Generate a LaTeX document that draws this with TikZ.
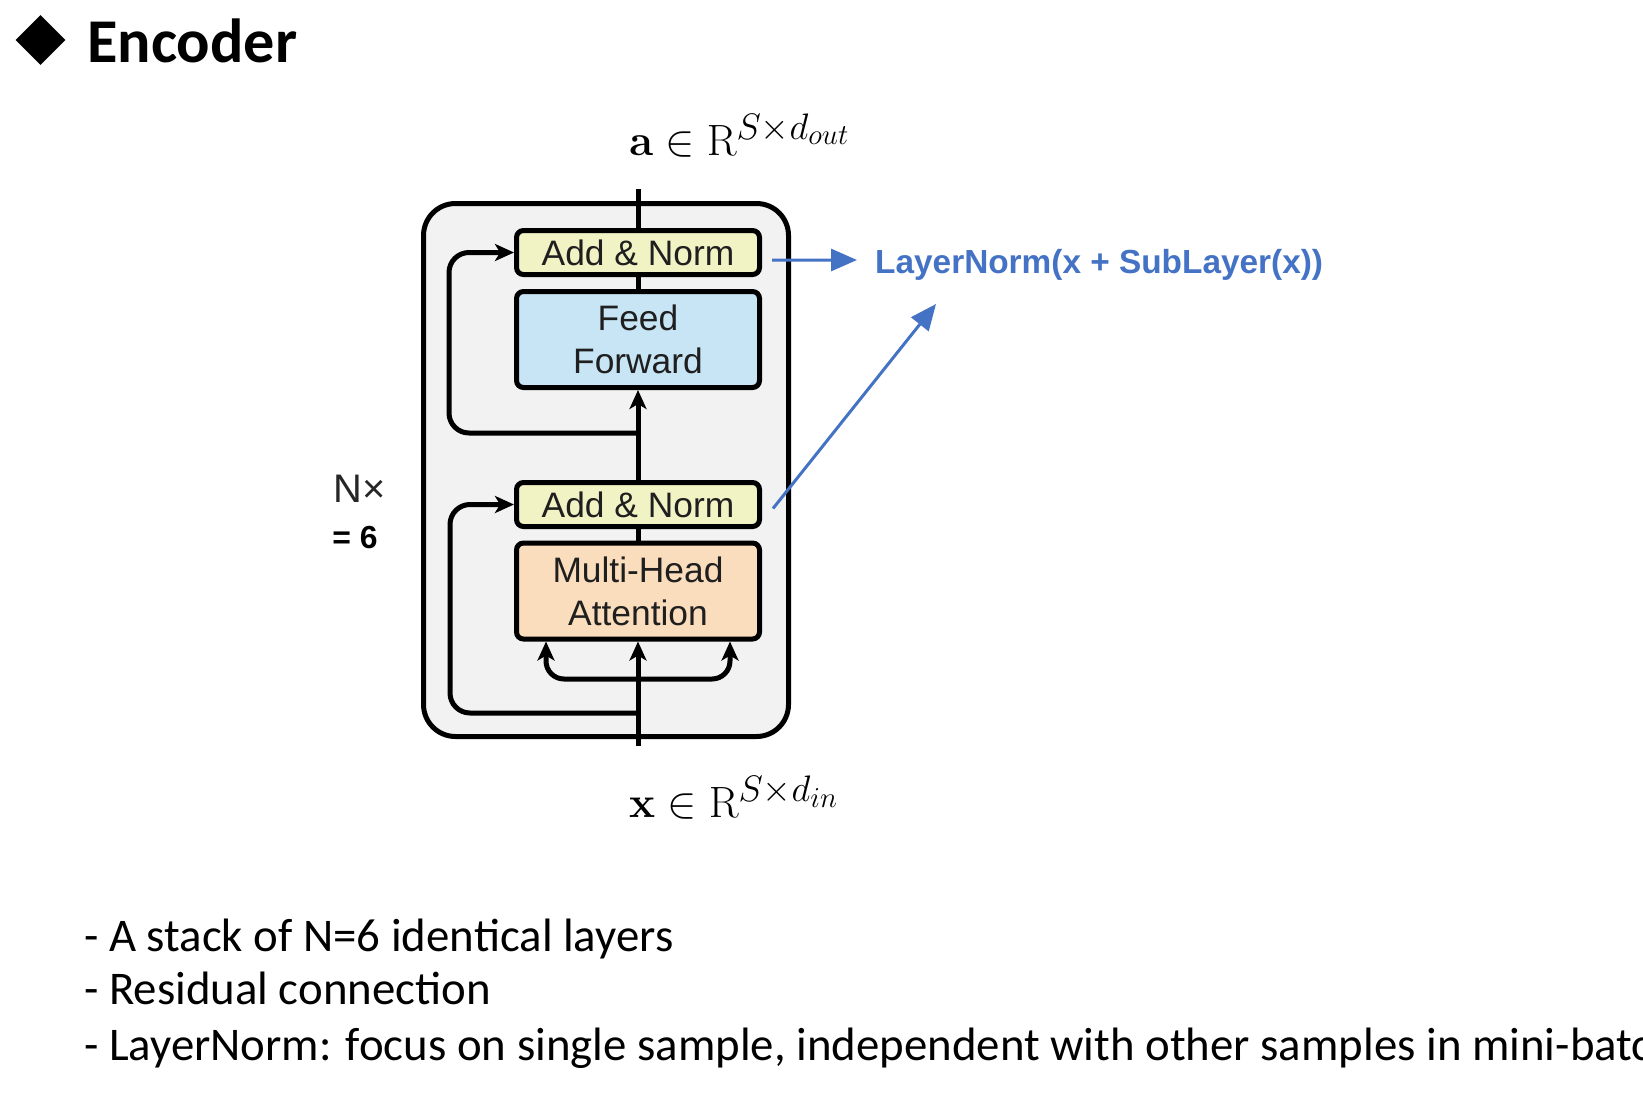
\documentclass[tikz,border=0pt]{standalone}
\usepackage{fix-cm}
\usepackage[no-math]{fontspec}
\setmainfont{Carlito}
\newfontfamily\blockfont{Liberation Sans}
\DeclareMathSizes{44}{44}{37}{29}
\usetikzlibrary{arrows.meta,shapes.geometric}
\definecolor{layergray}{HTML}{F2F2F2}
\definecolor{normyellow}{HTML}{F2F3C5}
\definecolor{ffblue}{HTML}{C7E5F4}
\definecolor{mhapeach}{HTML}{FADDBC}
\definecolor{noteblue}{HTML}{4472C4}
\begin{document}
\begin{tikzpicture}[x=1bp, y=-1bp,
    block/.style={draw, line width=5bp, rounded corners=7bp, inner sep=0pt,
      minimum width=243bp, align=center, text=black!88,
      font=\blockfont\fontsize{35.5}{43}\selectfont},
    flow/.style={line width=5bp},
    flowarrow/.style={line width=5bp, -{Stealth[length=19bp,width=17bp,inset=5bp]}},
    note/.style={line width=3bp, draw=noteblue, -{Triangle[length=26bp,width=22bp]}},
    mathlabel/.style={anchor=base west, inner sep=0pt, font=\fontsize{44}{50}\selectfont},
    bullet/.style={anchor=base west, inner sep=0pt, font=\fontsize{47}{56}\selectfont}]
    \useasboundingbox (0,0) rectangle (1643,1102);

    % Title
    \node[diamond, fill, inner sep=0pt, minimum size=50bp] (mark) at (40.5,40) {};
    \node[anchor=base west, inner sep=0pt, font=\bfseries\fontsize{62.5}{75}\selectfont]
      (title) at (87,62) {Encoder};

    % Layer frame
    \draw[line width=5bp, fill=layergray, rounded corners=32bp] (423.5,203.5) rectangle (788.5,736.5);

    % Blocks
    \node[block, fill=normyellow, minimum height=44bp] (an2) at (638,252.5) {Add \& Norm};
    \node[block, fill=ffblue, minimum height=96bp] (ff) at (638,339.5) {Feed\\Forward};
    \node[block, fill=normyellow, minimum height=44bp] (an1) at (638,504.5) {Add \& Norm};
    \node[block, fill=mhapeach, minimum height=96bp] (mha) at (638,591) {Multi-Head\\Attention};

    % Main path
    \coordinate (out) at (638,189);
    \coordinate (in) at (638,746);
    \coordinate (fork2) at (638,433);
    \coordinate (fork1) at (638,713);
    \coordinate (split) at (638,679);
    \draw[flow] (an2.north) -- (out);
    \draw[flow] (ff.north) -- (an2.south);
    \draw[flowarrow] (an1.north) -- (ff.south);
    \draw[flow] (mha.north) -- (an1.south);
    \draw[flowarrow] (in) -- (mha.south);

    % Residual connections
    \draw[flowarrow, rounded corners=20bp] (fork2) -| ([xshift=-65bp]an2.west) -- (an2.west);
    \draw[flowarrow, rounded corners=20bp] (fork1) -| ([xshift=-64bp]an1.west) -- (an1.west);

    % Q, K, V inputs
    \draw[flowarrow, rounded corners=18bp] (split) -| ([xshift=-92bp]mha.south);
    \draw[flowarrow, rounded corners=18bp] (split) -| ([xshift=92bp]mha.south);

    % Labels
    \node[mathlabel] (aout) at (629,155) {$\mathbf{a}\in\mathrm{R}^{S\times d_{out}}$};
    \node[mathlabel] (xin) at (629,817) {$\mathbf{x}\in\mathrm{R}^{S\times d_{in}}$};
    \node[font=\blockfont\fontsize{40}{48}\selectfont, text=black!85] (nx) at (360,489) {N×};
    \node[font=\blockfont\bfseries\fontsize{32}{38}\selectfont] (six) at (355,538) {= 6};

    % LayerNorm note
    \node[anchor=west, inner sep=0pt, text=noteblue, font=\blockfont\bfseries\fontsize{33.5}{40}\selectfont]
      (lnlabel) at (875,265) {LayerNorm(x + SubLayer(x))};
    \coordinate (lntip) at (936,304);
    \draw[note] ([xshift=10bp,yshift=-7.5bp]an2.east) -- ([xshift=-18bp,yshift=5bp]lnlabel.west);
    \draw[note] ([xshift=11bp,yshift=-4bp]an1.east) -- (lntip);

    % Notes below
    \begin{scope}
      \clip (0,0) rectangle (1643,1102);
      \node[bullet] (b1) at (84,951) {- A stack of N=6 identical layers};
      \node[bullet] (b2) at (84,1004) {- Residual connection};
      \node[bullet] (b3) at (84,1060) {- LayerNorm: focus on single sample, independent with other samples in mini-batch};
    \end{scope}
\end{tikzpicture}
\end{document}
